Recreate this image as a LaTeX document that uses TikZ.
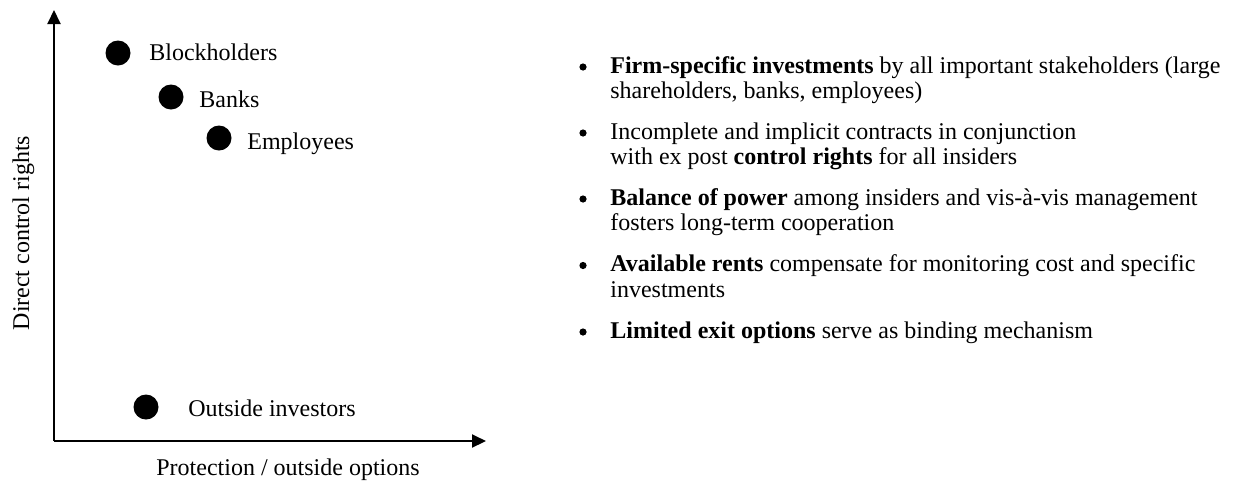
\documentclass[tikz,border=0pt]{standalone}
\usepackage{fontspec}
\setmainfont{Liberation Serif}
\usetikzlibrary{arrows.meta, positioning}

\tikzset{
  axis/.style = {line width=1pt, -{Triangle[length=7pt, width=6.5pt]}},
  dot/.style = {circle, fill=black, minimum size=12.5pt, inner sep=0pt},
  label/.style = {anchor=base west, inner sep=0pt},
  bulletmark/.style = {circle, fill=black, minimum size=3.6pt, inner sep=0pt},
  itemtext/.style = {anchor=base west, inner sep=0pt, align=left,
    font=\fontsize{12pt}{12.75pt}\selectfont},
}

\begin{document}
\begin{tikzpicture}[x=0.5pt, y=-0.5pt, font=\fontsize{12pt}{14pt}\selectfont]
\useasboundingbox (0,0) rectangle (1234,483);

% axes
\coordinate (origin) at (54,441);
\coordinate (ytop) at (54,10);
\coordinate (xend) at (486,441);
\draw [axis] (origin) -- (ytop);
\draw [axis] (origin) -- (xend);
\node (xlabel) [anchor=base, inner sep=0pt] at (288,475) {Protection / outside options};
\node (ylabel) [anchor=base, inner sep=0pt, rotate=90] at (29,233) {Direct control rights};

% stakeholders
\node (block) [dot] at (118,53) {};
\node (banks) [dot] at (171,97) {};
\node (empl) [dot] at (219,138) {};
\node (outside) [dot] at (146,407) {};
\node (blocklabel) [label] at (149,60) {Blockholders};
\node (bankslabel) [label] at (199,107) {Banks};
\node (empllabel) [label] at (247,149) {Employees};
\node (outsidelabel) [label] at (188,416) {Outside investors};

% characteristics (base of a two-line node = its last line)
\foreach \y/\name in {73/a, 139/b, 205/c, 271.5/d, 338/e}
  \node (bul\name) [bulletmark] at (583,\y-6) {};
\node (txta) [itemtext] at (610,98.5) {\textbf{Firm-specific investments} by all important stakeholders (large\\shareholders, banks, employees)};
\node (txtb) [itemtext] at (610,164.5) {Incomplete and implicit contracts in conjunction\\with ex post \textbf{control rights} for all insiders};
\node (txtc) [itemtext] at (610,230.5) {\textbf{Balance of power} among insiders and vis-à-vis management\\fosters long-term cooperation};
\node (txtd) [itemtext] at (610,297) {\textbf{Available rents} compensate for monitoring cost and specific\\investments};
\node (txte) [itemtext] at (610,338) {\textbf{Limited exit options} serve as binding mechanism};

\end{tikzpicture}
\end{document}
